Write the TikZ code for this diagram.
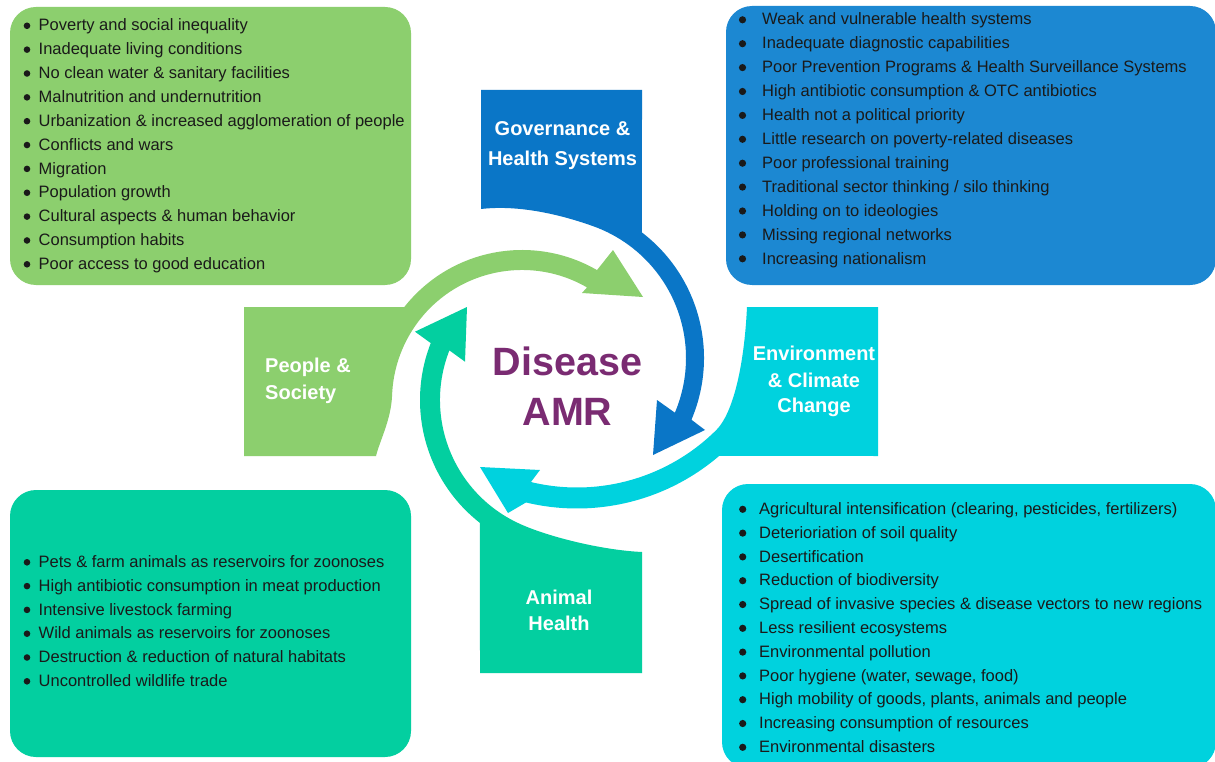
\documentclass[tikz,border=0pt]{standalone}
\usepackage{fontspec}
\setmainfont{Liberation Sans}
\usetikzlibrary{calc}
\definecolor{cgreen}{HTML}{8CCF6E}
\definecolor{cblue}{HTML}{0A76C7}
\definecolor{cbluebox}{HTML}{1C88D2}
\definecolor{ccyan}{HTML}{00D2DE}
\definecolor{cteal}{HTML}{03CFA0}
\definecolor{cpurple}{HTML}{7A2B72}
\definecolor{ctext}{HTML}{1A1A1A}
\tikzset{
  item/.style={anchor=base west, inner sep=0pt, font=\fontsize{16.5}{20}\selectfont, text=ctext},
  tablabel/.style={anchor=base, inner sep=0pt, font=\fontsize{20}{24}\selectfont\bfseries, text=white},
  amrlabel/.style={anchor=base, inner sep=0pt, font=\fontsize{39.5}{44}\selectfont\bfseries, text=cpurple},
  listbox/.style={rounded corners=26pt}
}
\begin{document}
\begin{tikzpicture}[x=1pt,y=-1pt]
\useasboundingbox (0,0) rectangle (1215,762);
\fill[white] (0,0) rectangle (1215,762);

% list boxes
\fill[cgreen, listbox] (10,7) rectangle (411,285);
\fill[cbluebox, listbox] (726,6) rectangle (1216,285);
\fill[cteal, listbox] (10,490) rectangle (411,757);
\fill[ccyan, listbox] (722,484) rectangle (1216,768);

% centres of the circular arrows
\coordinate (gC) at (522,400);
\coordinate (bC) at (546,358);
\coordinate (cC) at (577,290);
\coordinate (tC) at (576,400);

% People & Society (green)
\fill[cgreen] (244,456) -- (244,307) -- ($(gC)+(218.2:150)$)
  arc[start angle=218.2, end angle=300, radius=150]
  -- (613,250) -- (643,297) -- (582,293)
  -- ($(gC)+(300:130)$) arc[start angle=300, end angle=182, radius=130]
  .. controls (391,420) and (380,440) .. (376,456) -- cycle;

% Governance (blue)
\fill[cblue] (481,209) -- (481,90) -- (642,90) -- ($(bC)+(-52.6:158)$)
  arc[start angle=-52.6, end angle=23, radius=158]
  -- (705,430) -- (653,455) -- (657,400)
  -- ($(bC)+(23:140)$) arc[start angle=23, end angle=-70.4, radius=140]
  .. controls (555,212.6) and (515,205) .. (481,209) -- cycle;

% Environment (cyan)
\fill[ccyan] (747,307) -- (878,307) -- (878,456) -- ($(cC)+(49.4:218.5)$)
  arc[start angle=49.4, end angle=103.5, radius=218.5]
  -- (508,513) -- (480,467) -- (540,470)
  -- ($(cC)+(103.5:197.5)$) arc[start angle=103.5, end angle=45, radius=197.5]
  .. controls (732,414) and (744,370) .. (747,307) -- cycle;

% Animal Health (teal)
\fill[cteal] (642,552) -- (642,673) -- (480,673) -- ($(tC)+(128:156)$)
  arc[start angle=128, end angle=201.4, radius=156]
  -- (415,331.7) -- (467,307) -- (465,361.7)
  -- ($(tC)+(201.4:136)$) arc[start angle=201.4, end angle=115, radius=136]
  .. controls (545.7,536) and (600,550) .. (642,552) -- cycle;

% green list
\foreach \t [count=\i] in {Poverty and social inequality, Inadequate living conditions, No clean water \& sanitary facilities, Malnutrition and undernutrition, Urbanization \& increased agglomeration of people, Conflicts and wars, Migration, Population growth, Cultural aspects \& human behavior, Consumption habits, Poor access to good education}{
  \node[item] (g\i) at (38.5,{31+(\i-1)*23.85}) {\t};
  \fill[ctext] (27,{25.8+(\i-1)*23.85}) circle[radius=3.3];
}
% blue list
\foreach \t [count=\i] in {Weak and vulnerable health systems, Inadequate diagnostic capabilities, Poor Prevention Programs \& Health Surveillance Systems, High antibiotic consumption \& OTC antibiotics, Health not a political priority, Little research on poverty-related diseases, Poor professional training, Traditional sector thinking / silo thinking, Holding on to ideologies, Missing regional networks, Increasing nationalism}{
  \node[item] (b\i) at (762,{25+(\i-1)*23.9}) {\t};
  \fill[ctext] (742.5,{19.8+(\i-1)*23.9}) circle[radius=3.6];
}
% teal list
\foreach \t [count=\i] in {Pets \& farm animals as reservoirs for zoonoses, High antibiotic consumption in meat production, Intensive livestock farming, Wild animals as reservoirs for zoonoses, Destruction \& reduction of natural habitats, Uncontrolled wildlife trade}{
  \node[item] (t\i) at (38.5,{567.5+(\i-1)*23.8}) {\t};
  \fill[ctext] (27,{562.3+(\i-1)*23.8}) circle[radius=3.3];
}
% cyan list
\foreach \t [count=\i] in {{Agricultural intensification (clearing, pesticides, fertilizers)}, Deterioriation of soil quality, Desertification, Reduction of biodiversity, Spread of invasive species \& disease vectors to new regions, Less resilient ecosystems, Environmental pollution, {Poor hygiene (water, sewage, food)}, {High mobility of goods, plants, animals and people}, Increasing consumption of resources, Environmental disasters}{
  \node[item] (c\i) at (759,{514.5+(\i-1)*23.8}) {\t};
  \fill[ctext] (742.7,{509.3+(\i-1)*23.8}) circle[radius=3.6];
}

% tab labels
\node[tablabel] (gov1) at (562.5,135.5) {Governance \&};
\node[tablabel] (gov2) at (562.5,166) {Health Systems};
\node[tablabel, anchor=base west] (peo1) at (265,372) {People \&};
\node[tablabel, anchor=base west] (peo2) at (265,399) {Society};
\node[tablabel] (env1) at (814,360.5) {Environment};
\node[tablabel] (env2) at (814,387) {\& Climate};
\node[tablabel] (env3) at (814,412) {Change};
\node[tablabel] (ani1) at (559,604) {Animal};
\node[tablabel] (ani2) at (559,630) {Health};

% centre
\node[amrlabel] (dis) at (567.5,375) {Disease};
\node[amrlabel] (amr) at (567.5,425) {AMR};
\end{tikzpicture}
\end{document}
